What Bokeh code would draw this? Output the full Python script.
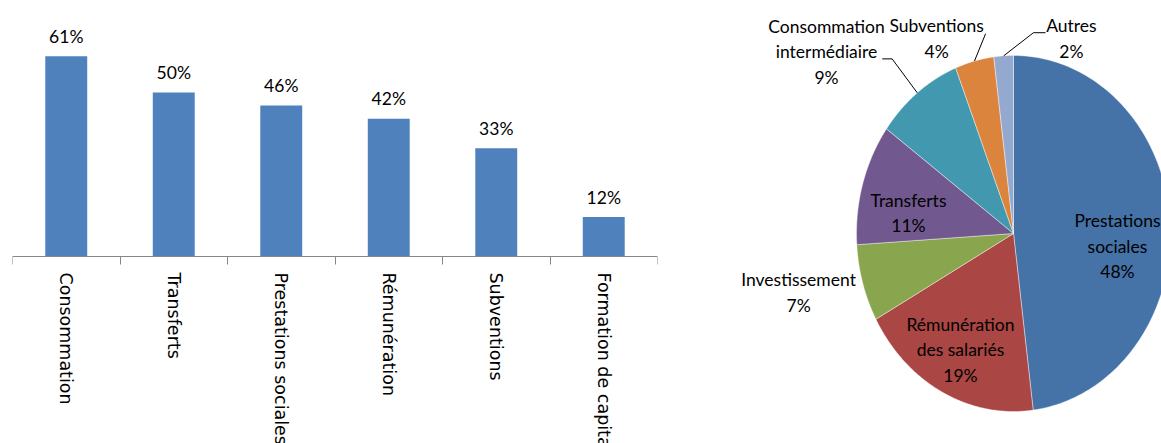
import numpy as np
from bokeh.plotting import figure
from bokeh.models import LinearAxis, FixedTicker, Range1d, ColumnDataSource
from bokeh.layouts import row
from bokeh.embed import file_html
from bokeh.resources import INLINE
from bokeh.core.properties import value

# ---------------- data ----------------
bar_categories = ["Consommation", "Transferts", "Prestations sociales",
                  "Rémunération", "Subventions", "Formation de capital"]
bar_values = [61, 50, 46, 42, 33, 12]

pie_categories = ["Prestations\nsociales", "Rémunération\ndes salariés", "Investissement",
                  "Transferts", "Consommation\nintermédiaire", "Subventions", "Autres"]
pie_values = [48, 19, 7, 11, 9, 4, 2]

# ---------------- styles / layout ----------------
BAR_COLOR = "#4F81BD"
PIE_COLORS = ["#4572A7", "#AA4643", "#89A54E", "#71588F", "#4198AF", "#DB843D", "#93A9CF"]
LABEL_FONT = "Lato"
AXIS_FONT = "DejaVu Sans"
AXIS_GREY = "#868686"
LINE_STEP_PX = 25.5

# label centres for pie labels, in unit-circle coordinates (layout)
pie_label_pos = [(0.662, -0.073), (-0.338, -0.654), (-1.369, -0.331), (-0.669, 0.115),
                 (-1.191, 1.022), (-0.490, 1.096), (0.369, 1.096)]
# leader line anchor points near the label (layout), None = no leader line
pie_leader_anchor = [None, None, None, None,
                     [(-0.836, 0.981), (-0.773, 0.981)],
                     [(-0.178, 1.122)],
                     [(0.204, 1.128), (0.127, 1.128)]]

# ---------------- bar chart ----------------
n = len(bar_categories)
xc = np.arange(n) + 0.5
p1 = figure(width=690, height=443, x_range=Range1d(0, n), y_range=Range1d(-57, 78),
            x_axis_type=None, y_axis_type=None, toolbar_location=None,
            output_backend="svg", min_border_left=12, min_border_right=33,
            min_border_top=0, min_border_bottom=0, outline_line_color=None)
src = ColumnDataSource(dict(x=xc, top=bar_values,
                            lab=[f"{v}%" for v in bar_values]))
p1.vbar(x="x", top="top", bottom=0, width=0.39, fill_color=BAR_COLOR,
        line_color=None, source=src)
p1.text(x="x", y="top", text="lab", text_align="center", text_baseline="alphabetic",
        y_offset=-20, text_font=value(LABEL_FONT), text_font_size="17.5px",
        text_color="black", source=src)

ax = LinearAxis(ticker=FixedTicker(ticks=list(xc), minor_ticks=list(range(n + 1))),
                fixed_location=0)
ax.major_label_overrides = {float(x): c for x, c in zip(xc, bar_categories)}
ax.major_label_orientation = -np.pi / 2
ax.axis_line_color = AXIS_GREY
ax.axis_line_width = 1
ax.major_tick_out = 0
ax.major_tick_in = 0
ax.minor_tick_out = 8
ax.minor_tick_in = 0
ax.minor_tick_line_color = AXIS_GREY
ax.major_label_standoff = 8
ax.major_label_text_font = AXIS_FONT
ax.major_label_text_font_size = "17.5px"
ax.major_label_text_color = "black"
p1.add_layout(ax, "below")

# ---------------- pie chart ----------------
cx_px, rx_px, ry_px = 323.0, 157.0, 178.0
W2, H2, cy_px = 471, 443, 233.0
p2 = figure(width=W2, height=H2,
            x_range=Range1d(-cx_px / rx_px, (W2 - cx_px) / rx_px),
            y_range=Range1d(-(H2 - cy_px) / ry_px, cy_px / ry_px),
            x_axis_type=None, y_axis_type=None, toolbar_location=None,
            output_backend="svg", min_border_left=0, min_border_right=0,
            min_border_top=0, min_border_bottom=0, outline_line_color=None)

frac = np.array(pie_values, dtype=float) / sum(pie_values)
cum = np.concatenate([[0.0], np.cumsum(frac)])
a_start = np.pi / 2 - 2 * np.pi * cum[:-1]
a_end = np.pi / 2 - 2 * np.pi * cum[1:]
xs, ys = [], []
for a0, a1 in zip(a_start, a_end):
    t = np.linspace(a0, a1, 120)
    xs.append(np.concatenate([[0.0], np.cos(t), [0.0]]))
    ys.append(np.concatenate([[0.0], np.sin(t), [0.0]]))
p2.patches(xs, ys, fill_color=PIE_COLORS, line_color="white", line_width=0.6,
           line_alpha=0.7)

# leader lines
mid = (a_start + a_end) / 2
lx, ly = [], []
for i, anc in enumerate(pie_leader_anchor):
    if anc is None:
        continue
    lx.append([a[0] for a in anc] + [np.cos(mid[i])])
    ly.append([a[1] for a in anc] + [np.sin(mid[i])])
p2.multi_line(lx, ly, line_color="black", line_width=1)

# labels: one text item per line, stacked with a fixed pixel step
tx, ty, tt, toff = [], [], [], []
for (px, py), c, v in zip(pie_label_pos, pie_categories, pie_values):
    lines = c.split("\n") + [f"{v}%"]
    m = len(lines)
    for k, ln in enumerate(lines):
        tx.append(px)
        ty.append(py)
        tt.append(ln)
        toff.append((k - (m - 1) / 2) * LINE_STEP_PX)
lsrc = ColumnDataSource(dict(x=tx, y=ty, text=tt, off=toff))
p2.text(x="x", y="y", text="text", y_offset="off", source=lsrc,
        text_align="center", text_baseline="middle",
        text_font=value(LABEL_FONT), text_font_size="17.5px", text_color="black")

layout = row(p1, p2)
open("out.html", "w").write(file_html(layout, INLINE))
